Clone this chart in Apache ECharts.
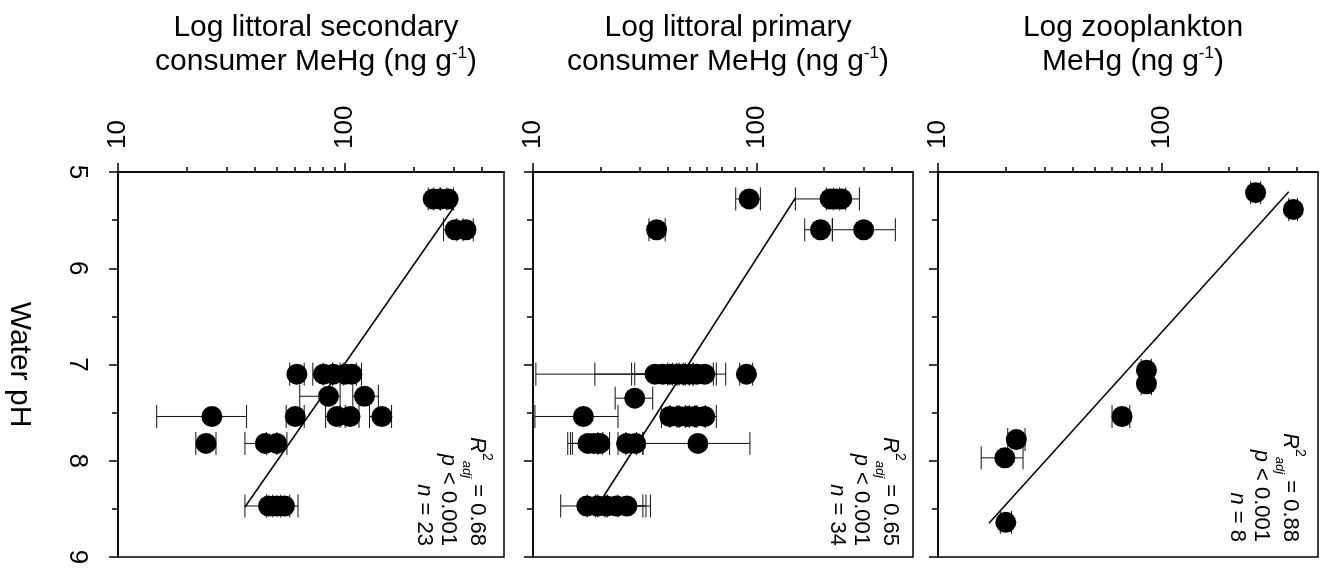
<!DOCTYPE html>
<html><head><meta charset="utf-8">
<script src="https://cdn.jsdelivr.net/npm/echarts@6/dist/echarts.min.js"></script>
<style>html,body{margin:0;padding:0;background:#fff}#c{width:1324px;height:573px}</style>
</head><body><div id="c"></div>
<script>
// ---------- data ----------
// Panel 1: littoral secondary consumers
const secPH   = [5.28,5.28,5.28,5.60,5.60,7.10,7.10,7.10,7.10,7.10,7.33,7.33,7.54,7.54,7.54,7.54,7.54,7.82,7.82,7.82,8.47,8.47,8.47];
const secMeHg = [244,262,284,305,340,61.3,80.2,88.7,100,107,84.4,121.6,25.9,60.3,92,105,145,24.4,44.5,50,46,50,54];
const secLo   = [232,245,262,271,310,57,72,80,88,95,63.1,108,14.8,55,82,95,128,22,36.2,45,36.2,45,48];
const secHi   = [262,280,300,330,366,66,88,98,112,118,95,140,36.8,66,100,115,160,27,50,55.4,52,57,62];
const secFitPH   = [5.33, 8.48];
const secFitMeHg = [308, 36.2];
const secStats = ['0.68', '0.001', '23'];

// Panel 2: littoral primary consumers
const priPH   = [5.28,5.28,5.28,5.28,5.60,5.60,5.60,7.10,7.10,7.10,7.10,7.10,7.10,7.10,7.10,7.10,7.35,7.54,7.54,7.54,7.54,7.54,7.54,7.82,7.82,7.82,7.82,7.82,7.82,8.47,8.47,8.47,8.47,8.47];
const priMeHg = [92.5,213,226,240,35.7,193,301,35.1,38,41,44,47,50,54,58.6,90,28.5,16.8,40.9,45,49,53,58.6,17.6,18.7,19.9,26.2,28.8,54.6,17.4,19.4,21.3,23.6,26.3];
const priLo   = [80.6,149,205,220,33,164,218,10.3,18.9,27.6,28.5,42,45,48,52,84,23.3,10.2,37.5,41,44,48,53,14.3,14.7,15.0,24,26,31.0,13.3,17.5,19,21,24];
const priHi   = [103.9,235,250,288,39,218,417,40,44,47,50,52,66,72.7,64,96,34.3,24.0,45,50,54,59,66,19.5,20.5,22,29,31.0,93.3,19.5,21.5,31.0,32,33.5];
const priFitPH   = [5.27, 8.47];
const priFitMeHg = [149, 19.4];
const priStats = ['0.65', '0.001', '34'];

// Panel 3: zooplankton
const zooPH   = [5.215,5.39,7.06,7.20,7.54,7.78,7.97,8.64];
const zooMeHg = [263,388,85.5,85.5,66.5,22.4,19.9,20.1];
const zooLo   = [250,370,81,81,60,20.5,15.6,19];
const zooHi   = [277,405,90,90,72,24.5,24.0,21.3];
const zooFitPH   = [5.205, 8.65];
const zooFitMeHg = [370, 16.9];
const zooStats = ['0.88', '0.001', '8'];

const titles = [
  'Log littoral secondary\nconsumer MeHg (ng g{sup|-1})',
  'Log littoral primary\nconsumer MeHg (ng g{sup|-1})',
  'Log zooplankton\nMeHg (ng g{sup|-1})'
];
const xMajorTicks = [10, 100];
const xMinorTicks = [20,30,40,50,60,70,80,90,200,300,400];
const xMin = 10, xMax = 500;
const pHMin = 5, pHMax = 9;
const yName = 'Water pH';

// ---------- layout ----------
const grids = [
  {left:118, top:172, width:386, height:385},
  {left:533, top:172, width:380, height:385},
  {left:938, top:172, width:380, height:385}
];
const statAnchor = [[494,546],[907,546],[1307,542]];
const SANS = "'Liberation Sans',Arial,Helvetica,sans-serif";

const panels = [
  {ph:secPH, v:secMeHg, lo:secLo, hi:secHi, fp:secFitPH, fv:secFitMeHg, st:secStats},
  {ph:priPH, v:priMeHg, lo:priLo, hi:priHi, fp:priFitPH, fv:priFitMeHg, st:priStats},
  {ph:zooPH, v:zooMeHg, lo:zooLo, hi:zooHi, fp:zooFitPH, fv:zooFitMeHg, st:zooStats}
];

function renderErr(params, api) {
  const y = api.value(0), lo = api.value(1), hi = api.value(2);
  const p1 = api.coord([lo, y]), p2 = api.coord([hi, y]);
  const c = 11.5;
  const st = {stroke:'#111', lineWidth:1};
  return {type:'group', children:[
    {type:'line', shape:{x1:p1[0], y1:p1[1], x2:p2[0], y2:p2[1]}, style:st},
    {type:'line', shape:{x1:p1[0], y1:p1[1]-c, x2:p1[0], y2:p1[1]+c}, style:st},
    {type:'line', shape:{x1:p2[0], y1:p2[1]-c, x2:p2[0], y2:p2[1]+c}, style:st}
  ]};
}

const xAxis = [], yAxis = [], series = [], title = [], graphic = [];
grids.forEach((g, i) => {
  xAxis.push({
    type:'log', logBase:10, gridIndex:i, position:'top', min:xMin, max:xMax,
    axisLine:{show:true, onZero:false, lineStyle:{color:'#000', width:1.5}},
    axisTick:{show:true, length:9, customValues:xMajorTicks, lineStyle:{color:'#000', width:1.5}},
    axisLabel:{show:true, customValues:xMajorTicks, rotate:-90, margin:23, color:'#000', fontSize:26, fontFamily:SANS},
    splitLine:{show:false}
  });
  yAxis.push({
    type:'value', gridIndex:i, min:pHMin, max:pHMax, interval:1, inverse:true,
    name: i === 0 ? yName : '', nameLocation:'middle', nameRotate:-90, nameGap:84,
    nameTextStyle:{fontSize:30, fontFamily:SANS, color:'#000'},
    axisLine:{show:true, onZero:false, lineStyle:{color:'#000', width:1.5}},
    axisTick:{show:true, length:9, lineStyle:{color:'#000', width:1.5}},
    minorTick:{show:true, splitNumber:2, length:6, lineStyle:{color:'#000', width:1.5}},
    axisLabel:{show: i === 0, rotate:-90, margin:28, color:'#000', fontSize:26, fontFamily:SANS},
    splitLine:{show:false}
  });
  const p = panels[i];
  series.push({
    type:'custom', xAxisIndex:i, yAxisIndex:i, renderItem:renderErr, z:1, silent:true,
    encode:{x:[1,2], y:0},
    data: p.ph.map((ph, k) => [ph, p.lo[k], p.hi[k]])
  });
  series.push({
    type:'line', xAxisIndex:i, yAxisIndex:i, z:2, symbol:'none', silent:true,
    lineStyle:{color:'#000', width:1.5},
    data: p.fp.map((ph, k) => [p.fv[k], ph])
  });
  series.push({
    type:'scatter', xAxisIndex:i, yAxisIndex:i, z:3, symbol:'circle', symbolSize:21,
    itemStyle:{color:'#000', opacity:1},
    data: p.ph.map((ph, k) => [p.v[k], ph])
  });
  title.push({
    text: titles[i], left: g.left + g.width/2, top: 6, textAlign:'center',
    textStyle:{fontSize:30, lineHeight:34, fontFamily:SANS, fontWeight:'normal', color:'#000',
      rich:{sup:{fontSize:17, verticalAlign:'top', lineHeight:34, fontFamily:SANS, color:'#000'}}}
  });
  const a = statAnchor[i];
  graphic.push({
    type:'text', x:a[0], y:a[1], rotation:-Math.PI/2, z:10,
    style:{
      text: '{r|R}{sup|2}{sub|adj}{l1| = ' + p.st[0] + '}\n{i|p}{t| < ' + p.st[1] + '}\n{i|n}{t| = ' + p.st[2] + '}',
      align:'right', verticalAlign:'top', fill:'#000',
      rich:{
        r:{fontSize:22, fontStyle:'italic', fontFamily:SANS, lineHeight:34},
        sup:{fontSize:14, fontFamily:SANS, verticalAlign:'top', lineHeight:34},
        sub:{fontSize:13, fontStyle:'italic', fontFamily:SANS, verticalAlign:'bottom', lineHeight:34},
        l1:{fontSize:22, fontFamily:SANS, lineHeight:34},
        i:{fontSize:22, fontStyle:'italic', fontFamily:SANS, lineHeight:24},
        t:{fontSize:22, fontFamily:SANS, lineHeight:24}
      }
    }
  });
});
// minor ticks on the log axes
grids.forEach((g, i) => {
  xAxis.push({
    type:'log', logBase:10, gridIndex:i, position:'top', min:xMin, max:xMax,
    axisLine:{show:false, onZero:false},
    axisTick:{show:true, length:5, customValues:xMinorTicks, lineStyle:{color:'#000', width:1.5}},
    axisLabel:{show:false}, splitLine:{show:false}
  });
});

const chart = echarts.init(document.getElementById('c'), null, {renderer:'canvas'});
chart.setOption({
  animation:false,
  backgroundColor:'#fff',
  title: title,
  grid: grids.map(g => Object.assign({show:true, borderColor:'#000', borderWidth:1.5, backgroundColor:'transparent'}, g)),
  xAxis: xAxis, yAxis: yAxis, series: series, graphic: graphic
});
</script></body></html>
